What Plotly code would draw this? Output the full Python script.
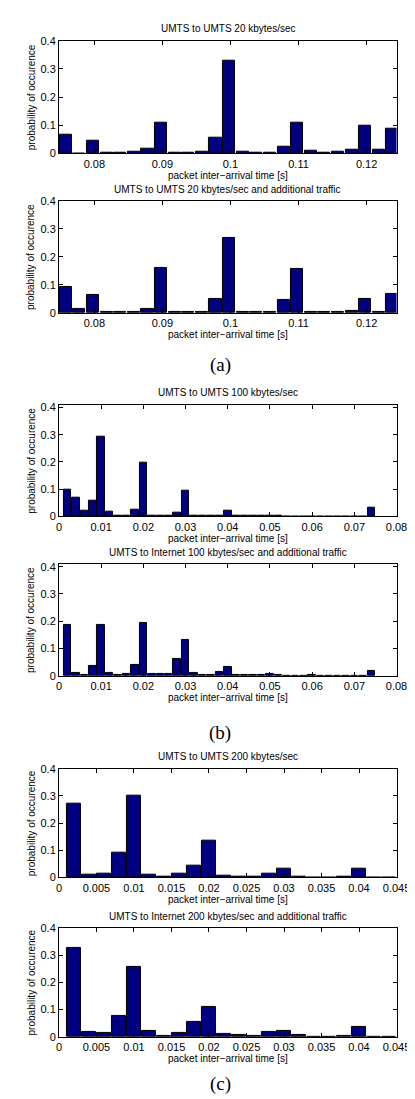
import plotly.graph_objects as go

W, H = 415, 1099

# ---------------- data ----------------
# (a) 20 kbytes/sec: bin centres 0.0758 + 0.002*k
centers_a = [round(0.0758 + 0.002 * k, 4) for k in range(25)]
umts_umts_20 = [0.066, 0.0, 0.045, 0.003, 0.001, 0.005, 0.017, 0.110, 0.004, 0.001,
                0.005, 0.055, 0.328, 0.005, 0.004, 0.004, 0.023, 0.110, 0.010, 0.004,
                0.006, 0.013, 0.100, 0.015, 0.087]
umts_umts_20_add = [0.092, 0.014, 0.064, 0.001, 0.001, 0.001, 0.012, 0.160, 0.001, 0.001,
                    0.002, 0.048, 0.266, 0.001, 0.002, 0.001, 0.045, 0.158, 0.004, 0.001,
                    0.001, 0.008, 0.050, 0.001, 0.068]

# (b) 100 kbytes/sec: bin centres 0.002*k
centers_b = [round(0.002 * k, 3) for k in range(1, 38)]
umts_umts_100 = [0.097, 0.068, 0.023, 0.057, 0.293, 0.017, 0.002, 0.004, 0.026, 0.198,
                 0.004, 0.003, 0.002, 0.013, 0.093, 0.001, 0.001, 0.001, 0.002, 0.022,
                 0.001, 0.001, 0.001, 0.001, 0.002, 0.001, 0.0005, 0.0005, 0.0005, 0.0005,
                 0.0005, 0.0005, 0.0005, 0.0005, 0.0005, 0.0005, 0.033]
umts_inet_100_add = [0.185, 0.010, 0.004, 0.035, 0.185, 0.010, 0.003, 0.006, 0.039, 0.195,
                     0.006, 0.006, 0.008, 0.060, 0.133, 0.010, 0.002, 0.003, 0.015, 0.033,
                     0.004, 0.001, 0.001, 0.003, 0.007, 0.002, 0.0005, 0.0005, 0.0005, 0.001,
                     0.0005, 0.0005, 0.0005, 0.0005, 0.0005, 0.0005, 0.019]

# (c) 200 kbytes/sec: bin centres 0.002*k
centers_c = [round(0.002 * k, 3) for k in range(1, 23)]
umts_umts_200 = [0.272, 0.011, 0.013, 0.093, 0.302, 0.010, 0.003, 0.015, 0.043, 0.135,
                 0.005, 0.004, 0.002, 0.015, 0.033, 0.003, 0.001, 0.001, 0.003, 0.033,
                 0.0, 0.0]
umts_inet_200_add = [0.325, 0.016, 0.014, 0.075, 0.258, 0.020, 0.004, 0.013, 0.055, 0.110,
                     0.009, 0.006, 0.002, 0.016, 0.022, 0.006, 0.001, 0.001, 0.004, 0.037,
                     0.0, 0.0]

titles = ["UMTS to UMTS 20 kbytes/sec",
          "UMTS to UMTS 20 kbytes/sec and additional traffic",
          "UMTS to UMTS 100 kbytes/sec",
          "UMTS to Internet 100 kbytes/sec and additional traffic",
          "UMTS to UMTS 200 kbytes/sec",
          "UMTS to Internet 200 kbytes/sec and additional traffic"]

x_label = "packet inter\u2212arrival time [s]"
y_label = "probability of occurence"

ticks_a = [0.08, 0.09, 0.1, 0.11, 0.12]
ticklabels_a = ["0.08", "0.09", "0.1", "0.11", "0.12"]
ticks_b = [0, 0.01, 0.02, 0.03, 0.04, 0.05, 0.06, 0.07, 0.08]
ticklabels_b = ["0", "0.01", "0.02", "0.03", "0.04", "0.05", "0.06", "0.07", "0.08"]
ticks_c = [0, 0.005, 0.01, 0.015, 0.02, 0.025, 0.03, 0.035, 0.04, 0.045]
ticklabels_c = ["0", "0.005", "0.01", "0.015", "0.02", "0.025", "0.03", "0.035", "0.04", "0.045"]
yticks = [0, 0.1, 0.2, 0.3, 0.4]
yticklabels = ["0", "0.1", "0.2", "0.3", "0.4"]

sub_labels = ["(a)", "(b)", "(c)"]

# ---------------- layout geometry (pixels) ----------------
panels = [
    dict(x=centers_a, y=umts_umts_20, xr=[0.0748, 0.1244], tv=ticks_a, tt=ticklabels_a, top=27, bot=141, ymax=0.4),
    dict(x=centers_a, y=umts_umts_20_add, xr=[0.0748, 0.1244], tv=ticks_a, tt=ticklabels_a, top=189, bot=302, ymax=0.4),
    dict(x=centers_b, y=umts_umts_100, xr=[0, 0.08], tv=ticks_b, tt=ticklabels_b, top=395, bot=508, ymax=0.41),
    dict(x=centers_b, y=umts_inet_100_add, xr=[0, 0.08], tv=ticks_b, tt=ticklabels_b, top=556, bot=669, ymax=0.41),
    dict(x=centers_c, y=umts_umts_200, xr=[0, 0.045], tv=ticks_c, tt=ticklabels_c, top=763, bot=873, ymax=0.4),
    dict(x=centers_c, y=umts_inet_200_add, xr=[0, 0.045], tv=ticks_c, tt=ticklabels_c, top=924, bot=1034, ymax=0.4),
]
sub_label_y = [355, 727, 1082]

L, R = 50, 402
FONT = "Liberation Sans, Arial, Helvetica, sans-serif"
BAR_COLOR = "#000080"

fig = go.Figure()
annotations = []
layout_axes = {}

for i, p in enumerate(panels):
    n = i + 1
    xa = "x" if n == 1 else f"x{n}"
    ya = "y" if n == 1 else f"y{n}"
    fig.add_trace(go.Bar(
        x=p["x"], y=p["y"], xaxis=xa, yaxis=ya,
        width=0.00178,
        marker=dict(color=BAR_COLOR, line=dict(color="#000000", width=1)),
        showlegend=False, hoverinfo="x+y",
    ))
    xkey = "xaxis" if n == 1 else f"xaxis{n}"
    ykey = "yaxis" if n == 1 else f"yaxis{n}"
    dom_y = [1 - p["bot"] / H, 1 - p["top"] / H]
    layout_axes[xkey] = dict(
        domain=[L / W, R / W], range=p["xr"], anchor=ya,
        tickmode="array", tickvals=p["tv"], ticktext=p["tt"],
        ticks="inside", ticklen=4, tickcolor="black", tickwidth=1,
        showline=True, linecolor="black", linewidth=1, mirror="ticks",
        showgrid=False, zeroline=False,
        tickfont=dict(family=FONT, size=11, color="black"),
    )
    layout_axes[ykey] = dict(
        domain=dom_y, range=[0, p["ymax"]], anchor=xa,
        tickmode="array", tickvals=yticks, ticktext=yticklabels,
        ticks="inside", ticklen=4, tickcolor="black", tickwidth=1,
        showline=True, linecolor="black", linewidth=1, mirror="ticks",
        showgrid=False, zeroline=False,
        tickfont=dict(family=FONT, size=11, color="black"),
    )
    # title
    annotations.append(dict(
        text=titles[i], x=(L + R) / 2 / W, y=1 - (p["top"] - 12) / H,
        xref="paper", yref="paper", xanchor="center", yanchor="middle",
        showarrow=False, font=dict(family=FONT, size=10, color="black"),
    ))
    # x label
    annotations.append(dict(
        text=x_label, x=(L + R) / 2 / W, y=1 - (p["bot"] + 22) / H,
        xref="paper", yref="paper", xanchor="center", yanchor="middle",
        showarrow=False, font=dict(family=FONT, size=10, color="black"),
    ))
    # y label
    annotations.append(dict(
        text=y_label, x=21 / W, y=1 - (p["top"] + p["bot"]) / 2 / H,
        xref="paper", yref="paper", xanchor="center", yanchor="middle",
        textangle=-90, showarrow=False,
        font=dict(family=FONT, size=10, color="black"),
    ))

for lbl, yy in zip(sub_labels, sub_label_y):
    annotations.append(dict(
        text=lbl, x=218 / W, y=1 - yy / H,
        xref="paper", yref="paper", xanchor="center", yanchor="middle",
        showarrow=False,
        font=dict(family="Liberation Serif, Times New Roman, serif", size=19, color="black"),
    ))

fig.update_layout(
    width=W, height=H,
    margin=dict(l=0, r=0, t=0, b=0),
    paper_bgcolor="white", plot_bgcolor="white",
    bargap=0, annotations=annotations,
    **layout_axes,
)

fig.write_html("out.html")
